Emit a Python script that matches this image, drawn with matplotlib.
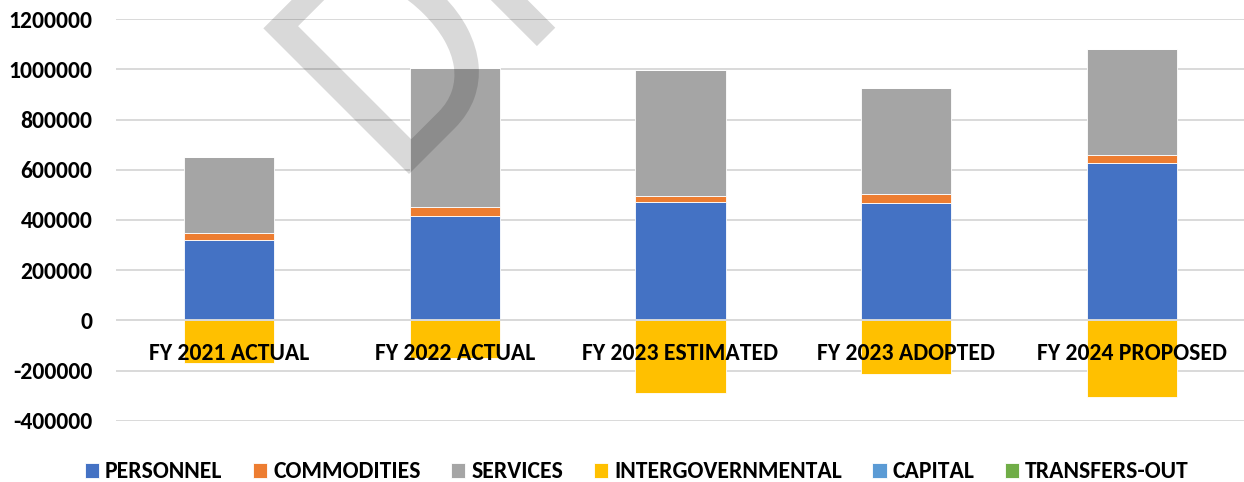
import matplotlib
matplotlib.use("Agg")
import matplotlib.pyplot as plt
import numpy as np
from matplotlib.textpath import TextPath
from matplotlib.font_manager import FontProperties
from matplotlib.patches import PathPatch
from matplotlib.transforms import Affine2D

plt.rcParams['font.family'] = ['Carlito', 'DejaVu Sans']

categories = ["FY 2021 ACTUAL", "FY 2022 ACTUAL", "FY 2023 ESTIMATED",
              "FY 2023 ADOPTED", "FY 2024 PROPOSED"]
personnel = [320000, 416000, 471000, 469000, 629000]
commodities = [27000, 36000, 25000, 36000, 29000]
services = [303000, 554000, 501000, 421000, 424000]
intergovernmental = [-169000, -149000, -291000, -213000, -304000]
capital = [0, 0, 0, 0, 0]
transfers_out = [0, 0, 0, 0, 0]

series = [
    ("PERSONNEL", personnel, "#4472C4"),
    ("COMMODITIES", commodities, "#ED7D31"),
    ("SERVICES", services, "#A5A5A5"),
    ("INTERGOVERNMENTAL", intergovernmental, "#FFC000"),
    ("CAPITAL", capital, "#5B9BD5"),
    ("TRANSFERS-OUT", transfers_out, "#70AD47"),
]
y_ticks = [-400000, -200000, 0, 200000, 400000, 600000, 800000, 1000000, 1200000]

FS = 17
W, H = 1244, 482

fig = plt.figure(figsize=(W / 100, H / 100), dpi=100)
ax = fig.add_axes([116 / W, 1 - 420.7 / H, 1129 / W, (420.7 - 19.3) / H])

x = np.arange(len(categories))
pos_bottom = np.zeros(len(categories))
neg_bottom = np.zeros(len(categories))
handles = []
for name, vals, color in series:
    v = np.array(vals, dtype=float)
    bottom = np.where(v >= 0, pos_bottom, neg_bottom)
    h = ax.bar(x, v, width=0.4, bottom=bottom, color=color, label=name,
               edgecolor="white", linewidth=0.6, zorder=2)
    handles.append(h)
    pos_bottom += np.where(v > 0, v, 0)
    neg_bottom += np.where(v < 0, v, 0)

ax.set_xlim(-0.5, len(categories) - 0.5)
ax.set_ylim(-400000, 1200000)
ax.set_yticks(y_ticks)
ax.set_yticklabels([str(t) for t in y_ticks], fontsize=FS, fontweight="bold")
ax.yaxis.grid(True, color="#D9D9D9", linewidth=1.4)
ax.set_axisbelow(True)
ax.axhline(0, color="#D9D9D9", linewidth=1.4, zorder=3)
for s in ax.spines.values():
    s.set_visible(False)
ax.spines['bottom'].set_position(('data', 0))
ax.tick_params(axis="y", length=0, pad=17)
ax.tick_params(axis="x", length=0, pad=16)
ax.set_xticks(x)
ax.set_xticklabels(categories, fontsize=FS, fontweight="bold")
# category labels sit on top of the negative bars
ax.xaxis.set_zorder(5)

fig.legend(handles=handles, loc="center", bbox_to_anchor=(0.512, 0.021),
           ncol=6, frameon=False, handlelength=0.6, handleheight=0.6,
           handletextpad=0.25, columnspacing=1.3,
           prop={"family": "Carlito", "weight": "bold", "size": FS})

# DRAFT watermark: glyph outlines, slightly narrowed, rotated 45 degrees
wm_font = FontProperties(family="Carlito")
d_ext = TextPath((0, 0), "D", size=1, prop=wm_font).get_extents()
d_left = d_ext.x0
d_cap = d_ext.y1
cap_px = 206
sy = cap_px / d_cap
sx = sy * 0.91
wm_path = TextPath((0, 0), "DRAFT", size=1, prop=wm_font)
wm_tf = (Affine2D().translate(-d_left, 0).scale(sx, sy).rotate_deg(45)
         .translate(409, H - 174))
wm = PathPatch(wm_path, facecolor="black", edgecolor="none", alpha=0.15,
               transform=wm_tf, zorder=10)
fig.add_artist(wm)

fig.savefig("out.png", dpi=100)
